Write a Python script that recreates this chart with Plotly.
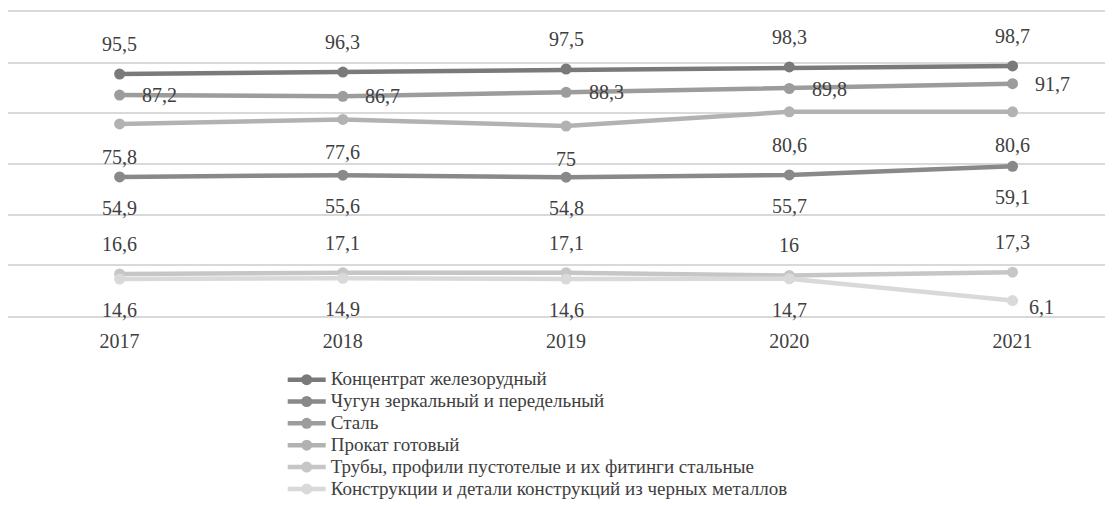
import plotly.graph_objects as go

years = ["2017", "2018", "2019", "2020", "2021"]

koncentrat = [95.5, 96.3, 97.5, 98.3, 98.7]
chugun = [54.9, 55.6, 54.8, 55.7, 59.1]
stal = [87.2, 86.7, 88.3, 89.8, 91.7]
prokat = [75.8, 77.6, 75.0, 80.6, 80.6]
truby = [16.6, 17.1, 17.1, 16.0, 17.3]
konstrukcii = [14.6, 14.9, 14.6, 14.7, 6.1]

names = [
    "Концентрат железорудный",
    "Чугун зеркальный и передельный",
    "Сталь",
    "Прокат готовый",
    "Трубы, профили пустотелые и их фитинги стальные",
    "Конструкции и детали конструкций из черных металлов",
]
series = [koncentrat, chugun, stal, prokat, truby, konstrukcii]

colors = ["#7a7a7a", "#898989", "#9c9c9c", "#b2b2b2", "#c6c6c6", "#d9d9d9"]
# label offsets in pixels (xshift, yshift) per series
label_shift = [(0, 30), (0, -31), (40, 0), (0, -33), (0, 30), (0, -31)]
# single labels that sit elsewhere: (series index, point index) -> shift
label_override = {(5, 4): (29, -6)}

FONT = "Liberation Serif"
TEXT = "#404040"

fig = go.Figure()
for i, (name, vals) in enumerate(zip(names, series)):
    fig.add_trace(go.Scatter(
        x=years, y=vals,
        # bigger glyphs than the legend font so rows stay tight like Excel
        name=f'<span style="font-size:19px">{name}</span>',
        mode="lines+markers",
        line=dict(color=colors[i], width=4.5),
        marker=dict(color=colors[i], size=11),
    ))
    for j, v in enumerate(vals):
        dx, dy = label_override.get((i, j), label_shift[i])
        txt = f"{v:g}".replace(".", ",")
        # category index as x: numeric-looking year strings confuse annotations
        fig.add_annotation(
            x=j, y=v, xref="x", yref="y", text=txt, showarrow=False,
            xshift=dx, yshift=dy,
            font=dict(family=FONT, size=20, color=TEXT),
        )

fig.update_layout(
    width=1105, height=498,
    margin=dict(l=0, r=0, t=4, b=190, autoexpand=False),
    plot_bgcolor="white", paper_bgcolor="white",
    font=dict(family=FONT, color=TEXT),
    showlegend=True,
    legend=dict(
        x=0.2486, y=-0.157, xanchor="left", yanchor="top",
        font=dict(family=FONT, size=14.5, color=TEXT),
        itemwidth=38, bgcolor="rgba(0,0,0,0)",
        traceorder="normal",
    ),
)
fig.update_xaxes(
    type="category", range=[-0.5, 4.45],
    showgrid=False, showline=True, mirror=True,
    linecolor="#d9d9d9", linewidth=1.5,
    ticks="outside", ticklen=6, tickcolor="rgba(0,0,0,0)",
    tickfont=dict(family=FONT, size=20, color=TEXT),
)
fig.update_yaxes(
    range=[0, 120], dtick=20, showticklabels=False,
    gridcolor="#d9d9d9", gridwidth=1.5, zeroline=False,
)

fig.write_html("out.html")
